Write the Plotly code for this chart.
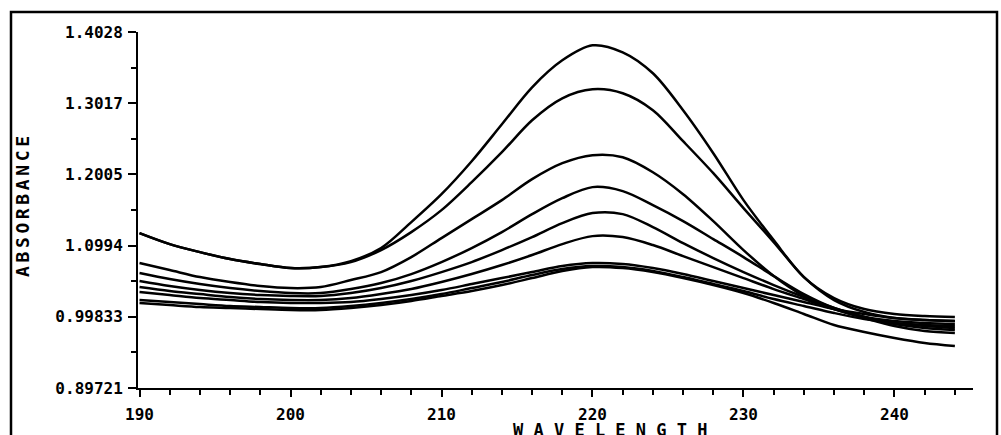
import plotly.graph_objects as go

# Wavelength grid (nm) shared by every spectrum
wavelength = list(range(190, 245, 2))

# Absorbance spectra, one list per sample (top peak first)
spectrum_a = [1.1172, 1.1016, 1.0902, 1.0803, 1.0732, 1.0675, 1.0689, 1.0774, 1.0959, 1.1328,
              1.1725, 1.2193, 1.2718, 1.3243, 1.3626, 1.3839, 1.3740, 1.3442, 1.2917, 1.2307,
              1.1640, 1.1072, 1.0547, 1.0249, 1.0093, 1.0023, 0.9994, 0.9980]
spectrum_b = [1.1172, 1.1016, 1.0902, 1.0803, 1.0732, 1.0675, 1.0689, 1.0760, 1.0931, 1.1186,
              1.1498, 1.1895, 1.2321, 1.2775, 1.3087, 1.3215, 1.3158, 1.2917, 1.2477, 1.2023,
              1.1527, 1.1044, 1.0547, 1.0221, 1.0051, 0.9966, 0.9937, 0.9923]
spectrum_c = [1.0746, 1.0647, 1.0547, 1.0477, 1.0420, 1.0391, 1.0406, 1.0505, 1.0618, 1.0831,
              1.1101, 1.1370, 1.1640, 1.1938, 1.2165, 1.2279, 1.2250, 1.2037, 1.1725, 1.1342,
              1.0931, 1.0562, 1.0278, 1.0093, 0.9980, 0.9923, 0.9895, 0.9881]
spectrum_d = [1.0604, 1.0519, 1.0448, 1.0391, 1.0349, 1.0320, 1.0320, 1.0377, 1.0462, 1.0590,
              1.0760, 1.0959, 1.1186, 1.1441, 1.1668, 1.1825, 1.1768, 1.1569, 1.1342, 1.1087,
              1.0831, 1.0562, 1.0306, 1.0108, 0.9980, 0.9895, 0.9852, 0.9824]
spectrum_e = [1.0491, 1.0420, 1.0363, 1.0320, 1.0292, 1.0278, 1.0278, 1.0320, 1.0391, 1.0491,
              1.0618, 1.0760, 1.0931, 1.1115, 1.1314, 1.1456, 1.1441, 1.1257, 1.1030, 1.0817,
              1.0618, 1.0434, 1.0264, 1.0108, 0.9980, 0.9881, 0.9824, 0.9795]
spectrum_f = [1.0406, 1.0349, 1.0306, 1.0264, 1.0235, 1.0221, 1.0221, 1.0249, 1.0306, 1.0377,
              1.0477, 1.0590, 1.0718, 1.0860, 1.1016, 1.1129, 1.1115, 1.1002, 1.0845, 1.0689,
              1.0533, 1.0377, 1.0235, 1.0093, 0.9966, 0.9852, 0.9781, 0.9753]
spectrum_g = [1.0335, 1.0292, 1.0249, 1.0221, 1.0193, 1.0179, 1.0179, 1.0193, 1.0235, 1.0292,
              1.0363, 1.0448, 1.0533, 1.0618, 1.0703, 1.0746, 1.0732, 1.0675, 1.0590, 1.0491,
              1.0391, 1.0292, 1.0193, 1.0093, 1.0023, 0.9966, 0.9937, 0.9923]
spectrum_h = [1.0221, 1.0193, 1.0164, 1.0136, 1.0122, 1.0108, 1.0108, 1.0136, 1.0179, 1.0235,
              1.0306, 1.0391, 1.0477, 1.0576, 1.0661, 1.0703, 1.0689, 1.0633, 1.0547, 1.0448,
              1.0349, 1.0235, 1.0136, 1.0037, 0.9951, 0.9895, 0.9866, 0.9852]
spectrum_i = [1.0179, 1.0150, 1.0122, 1.0108, 1.0093, 1.0079, 1.0079, 1.0108, 1.0150, 1.0207,
              1.0278, 1.0349, 1.0434, 1.0533, 1.0633, 1.0689, 1.0675, 1.0618, 1.0533, 1.0434,
              1.0320, 1.0179, 1.0023, 0.9866, 0.9767, 0.9682, 0.9611, 0.9568]

# Axis ticks
x_tick_values = [190, 200, 210, 220, 230, 240]
x_tick_labels = ["190", "200", "210", "220", "230", "240"]
y_tick_values = [0.89721, 0.99833, 1.0994, 1.2005, 1.3017, 1.4028]
y_tick_labels = ["0.89721", "0.99833", "1.0994", "1.2005", "1.3017", "1.4028"]

spectra = [spectrum_a, spectrum_b, spectrum_c, spectrum_d, spectrum_e,
           spectrum_f, spectrum_g, spectrum_h, spectrum_i]

fig = go.Figure()
for values in spectra:
    fig.add_trace(go.Scatter(
        x=wavelength, y=values, mode="lines",
        line=dict(color="black", width=2.5, shape="spline", smoothing=0.9),
        hoverinfo="skip", showlegend=False,
    ))

# Minor y ticks sit halfway between the labelled ones
y_minor = [(a + b) / 2 for a, b in zip(y_tick_values[:-1], y_tick_values[1:])]

tick_font = dict(family="DejaVu Sans Mono", size=16, color="black", weight="bold")

fig.update_xaxes(
    range=[189.9, 245.2], showgrid=False, zeroline=False,
    showline=True, linecolor="black", linewidth=2,
    tickmode="array", tickvals=x_tick_values, ticktext=x_tick_labels,
    ticks="outside", ticklen=7, tickwidth=2, tickcolor="black",
    tickfont=tick_font, ticklabelstandoff=4,
    minor=dict(tickmode="linear", tick0=190, dtick=2, ticks="outside",
               ticklen=5, tickwidth=2, tickcolor="black", showgrid=False),
)
fig.update_yaxes(
    range=[0.89715, 1.40285], showgrid=False, zeroline=False,
    showline=True, linecolor="black", linewidth=2,
    tickmode="array", tickvals=y_tick_values, ticktext=y_tick_labels,
    ticks="outside", ticklen=8, tickwidth=2, tickcolor="black",
    tickfont=tick_font, ticklabelstandoff=2,
    minor=dict(tickvals=y_minor, ticks="outside", ticklen=5,
               tickwidth=2, tickcolor="black", showgrid=False),
)

# Plot-area geometry in pixels, used to place the frame and titles
L, R, T, B = 138, 973, 32, 388
W, H = R - L, B - T


def px(xp):
    return (xp - L) / W


def py(yp):
    return (B - yp) / H


gap = "<span style='font-size:6px'> </span>"
y_title = gap.join("ABSORBANCE")

fig.update_layout(
    width=1001, height=435,
    margin=dict(l=L, r=1001 - R, t=T, b=435 - B),
    paper_bgcolor="white", plot_bgcolor="white",
    shapes=[
        dict(type="rect", xref="paper", yref="paper",
             x0=px(11), x1=px(997), y0=py(460), y1=py(12),
             line=dict(color="black", width=2.5), fillcolor="rgba(0,0,0,0)", layer="above"),
    ],
    annotations=[
        dict(text=y_title, xref="paper", yref="paper", x=px(22), y=py(207),
             xanchor="center", yanchor="middle", textangle=-90, showarrow=False,
             font=dict(family="DejaVu Sans Mono", size=18, color="black", weight="bold")),
        dict(text=" ".join("WAVELENGTH"), xref="paper", yref="paper", x=px(610), y=py(418),
             xanchor="center", yanchor="top", showarrow=False,
             font=dict(family="DejaVu Sans Mono", size=17, color="black", weight="bold")),
    ],
)

fig.write_html("out.html")
